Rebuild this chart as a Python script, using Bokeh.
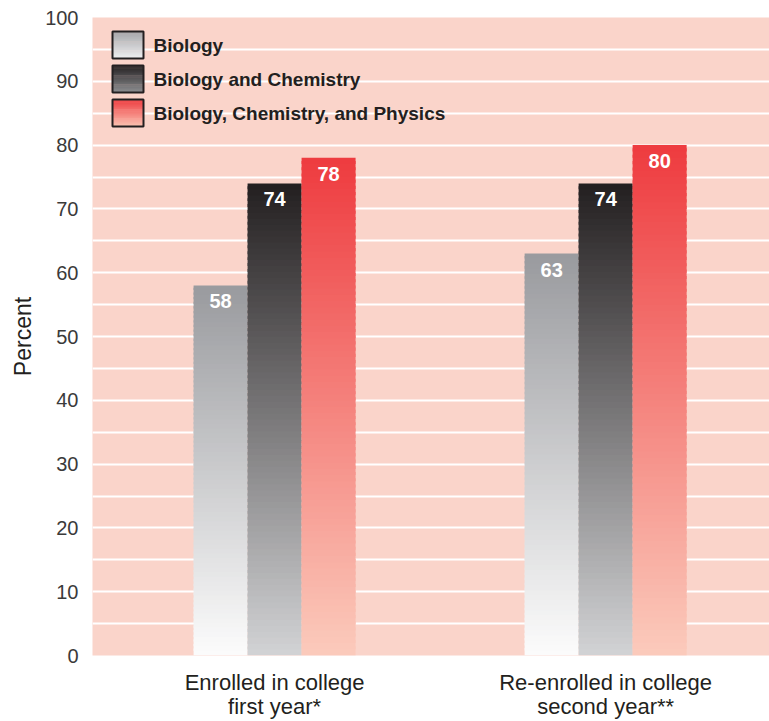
from bokeh.plotting import figure
from bokeh.models import Range1d, FixedTicker, SingleIntervalTicker, ColumnDataSource, LinearAxis
from bokeh.core.properties import value
from bokeh.embed import file_html
from bokeh.resources import INLINE

# ---- data ----
categories = ["Enrolled in college\nfirst year*", "Re-enrolled in college\nsecond year**"]
series = ["Biology", "Biology and Chemistry", "Biology, Chemistry, and Physics"]
biology = [58, 63]
bio_chem = [74, 74]
bio_chem_phys = [78, 80]
values_by_series = [biology, bio_chem, bio_chem_phys]

# ---- styles ----
grad_top = ["#999a9e", "#231f20", "#ee3b3f"]
grad_bottom = ["#fcfcfc", "#d2d3d5", "#fbcbbc"]
leg_top = ["#a3a4a8", "#231f20", "#ee3b3f"]
leg_bottom = ["#f0f0f1", "#8e8f92", "#fbc3b3"]
FONT = "Liberation Sans"
BG = "#fad4ca"

W, H = 769, 721
FRAME_L, FRAME_T, FRAME_W, FRAME_H = 92, 17, 677, 638
X0, X1 = -0.55, 1.495
Y0, Y1 = 0, 100
bar_w = 54 / (FRAME_W / (X1 - X0))
offsets = [-bar_w, 0.0, bar_w]


def hex2rgb(h):
    h = h.lstrip("#")
    return tuple(int(h[i:i + 2], 16) for i in (0, 2, 4))


def mix(c1, c2, t):
    a, b = hex2rgb(c1), hex2rgb(c2)
    return "#%02x%02x%02x" % tuple(round(a[i] + (b[i] - a[i]) * t) for i in range(3))


def px_x(px):
    return X0 + (px - FRAME_L) * (X1 - X0) / FRAME_W


def px_y(py):
    return Y1 - (py - FRAME_T) * (Y1 - Y0) / FRAME_H


p = figure(width=W, height=H, x_range=Range1d(X0, X1), y_range=Range1d(Y0, Y1),
           output_backend="svg", toolbar_location=None, x_axis_location=None,
           min_border_left=FRAME_L, min_border_right=0, min_border_top=FRAME_T,
           min_border_bottom=H - FRAME_T - FRAME_H)
p.background_fill_color = BG
p.border_fill_color = "white"
p.outline_line_color = None

# grid
p.xgrid.visible = False
p.ygrid.ticker = SingleIntervalTicker(interval=5)
p.ygrid.grid_line_color = "white"
p.ygrid.grid_line_width = 2

# y axis
p.yaxis.ticker = SingleIntervalTicker(interval=10)
p.yaxis.axis_line_color = None
p.yaxis.major_tick_line_color = None
p.yaxis.minor_tick_line_color = None
p.yaxis.major_label_text_font = FONT
p.yaxis.major_label_text_font_size = "20px"
p.yaxis.major_label_text_color = "#3a3a3a"
p.yaxis.major_label_standoff = 8
p.yaxis.axis_label = "Percent"
p.yaxis.axis_label_text_font = FONT
p.yaxis.axis_label_text_font_style = "normal"
p.yaxis.axis_label_text_font_size = "23px"
p.yaxis.axis_label_text_color = "#231f20"
p.yaxis.axis_label_standoff = 6

# x axes: one axis per label line, stacked below the frame
line_standoff = [14, -4]
n_lines = max(len(c.split("\n")) for c in categories)
for j in range(n_lines):
    ax = LinearAxis(ticker=FixedTicker(ticks=list(range(len(categories)))))
    ax.major_label_overrides = {g: (c.split("\n")[j] if j < len(c.split("\n")) else "")
                                for g, c in enumerate(categories)}
    ax.axis_line_color = None
    ax.major_tick_line_color = None
    ax.minor_tick_line_color = None
    ax.major_tick_out = 0
    ax.major_tick_in = 0
    ax.minor_tick_out = 0
    ax.minor_tick_in = 0
    ax.major_label_text_font = FONT
    ax.major_label_text_font_size = "22px"
    ax.major_label_text_color = "#231f20"
    ax.major_label_standoff = line_standoff[j]
    p.add_layout(ax, "below")

# gradient bars
N = 80
for s, vals in enumerate(values_by_series):
    L, R, B, T, C = [], [], [], [], []
    for g, v in enumerate(vals):
        xc = g + offsets[s]
        for k in range(N):
            lo = v * k / N
            hi = min(v, v * (k + 1.5) / N)
            t = 1 - (k + 0.5) / N  # 0 at top, 1 at bottom
            L.append(xc - bar_w / 2)
            R.append(xc + bar_w / 2)
            B.append(lo)
            T.append(hi)
            C.append(mix(grad_top[s], grad_bottom[s], t))
    src = ColumnDataSource(dict(left=L, right=R, bottom=B, top=T, color=C))
    p.quad(left="left", right="right", bottom="bottom", top="top", source=src,
           fill_color="color", line_color=None)

# value labels
for s, vals in enumerate(values_by_series):
    xs = [g + offsets[s] for g in range(len(vals))]
    p.text(x=xs, y=vals, text=[str(v) for v in vals], text_color="white",
           text_font=value(FONT), text_font_style="bold", text_font_size="20px",
           text_align="center", text_baseline="middle", y_offset=16)

# legend (custom gradient swatches)
box_l, box_r = px_x(112), px_x(143)
box_tops = [31, 65, 99]
box_h = 27
M = 30
for s, name in enumerate(series):
    top_px = box_tops[s]
    L, R, B, T, C = [], [], [], [], []
    for k in range(M):
        y_hi = px_y(top_px + box_h * k / M)
        y_lo = px_y(top_px + box_h * (k + 1.5) / M) if k < M - 1 else px_y(top_px + box_h)
        L.append(box_l)
        R.append(box_r)
        B.append(y_lo)
        T.append(y_hi)
        C.append(mix(leg_top[s], leg_bottom[s], (k + 0.5) / M))
    src = ColumnDataSource(dict(left=L, right=R, bottom=B, top=T, color=C))
    p.quad(left="left", right="right", bottom="bottom", top="top", source=src,
           fill_color="color", line_color=None)
    p.quad(left=[box_l], right=[box_r], bottom=[px_y(top_px + box_h)], top=[px_y(top_px)],
           fill_color=None, line_color="#231f20", line_width=2)
    p.text(x=[px_x(153)], y=[px_y(top_px + box_h / 2)], text=[name], text_color="#231f20",
           text_font=value(FONT), text_font_style="bold", text_font_size="19px",
           text_align="left", text_baseline="middle")

open("out.html", "w").write(file_html(p, INLINE))
